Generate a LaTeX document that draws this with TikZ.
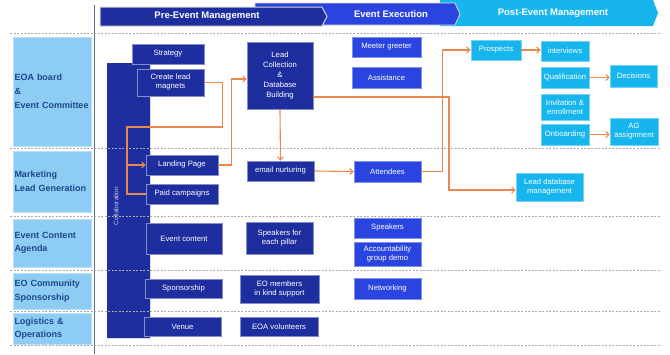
\documentclass[tikz,border=0pt]{standalone}
\usepackage{fontspec}
\setmainfont{Liberation Sans}
\usetikzlibrary{arrows.meta,shadows}

\definecolor{preblue}{HTML}{1F2E9E}
\definecolor{exeblue}{HTML}{2A45DF}
\definecolor{postcyan}{HTML}{17B5EE}
\definecolor{rowblue}{HTML}{8ECDF3}
\definecolor{rowtext}{HTML}{1F4690}
\definecolor{linkorange}{HTML}{E8884D}
\definecolor{sepline}{HTML}{5A7088}

\begin{document}
\begin{tikzpicture}[x=1pt, y=-1pt,
  box/.style={text=white, font=\fontsize{7.7}{9}\selectfont, align=center,
    inner sep=1pt, line width=0.5pt,
    drop shadow={shadow xshift=1.3pt, shadow yshift=-1.3pt, fill=black!40}},
  prebox/.style={box, fill=preblue, draw=preblue!55!white},
  exebox/.style={box, fill=exeblue, draw=exeblue!60!white},
  postbox/.style={box, fill=postcyan, draw=postcyan!60!white},
  rowlab/.style={fill=rowblue, draw=rowblue!60!white, minimum width=78,
    text width=75pt, inner xsep=1.5pt, align=left, text=rowtext,
    font=\bfseries\fontsize{9}{14}\selectfont},
  banner/.style={text=white, font=\bfseries\fontsize{9.5}{11}\selectfont},
  lane/.style={draw=gray!65, dash pattern=on 2pt off 1.5pt, line width=0.6pt},
  link/.style={draw=linkorange, line width=1.1pt},
  flow/.style={link, -{Straight Barb[length=3.2pt,width=6pt]}}]

  \useasboundingbox (0,0) rectangle (670,354);

  % --- 1. Phase banners ---
  \fill[postcyan] (440,0) -- (653,0) -- (658,13) -- (653,26) -- (440,26) -- cycle;
  \draw[fill=exeblue, draw=gray!30, line width=0.8pt]
    (255,3) -- (455,3) -- (460,14) -- (455,25) -- (255,25) -- cycle;
  \draw[fill=preblue, draw=gray!35, line width=1pt]
    (100,7) -- (322,7) -- (327,16.5) -- (322,26) -- (100,26) -- cycle;
  \node[banner] (prehead) at (207,16.5) {Pre-Event Management};
  \node[banner] (exehead) at (391,14.5) {Event Execution};
  \node[banner] (posthead) at (553,13) {Post-Event Management};

  % vertical separator
  \draw[sepline, line width=1pt] (94,5) -- (94,354);

  % --- 2. Collaboration bar ---
  \path[fill=preblue, drop shadow={shadow xshift=1.3pt, shadow yshift=-1.3pt, fill=black!30}]
    (107,63) rectangle (150,338);
  \node[rotate=90, text=white!75!preblue, font=\fontsize{6.5}{8}\selectfont]
    (collab) at (116,206) {Collaboration};

  % --- 3. Swim lanes ---
  \foreach \y in {33,148,216,270,311,345}
    \draw[lane] (10,\y) -- (660,\y);

  % --- 4. Row labels ---
  \node[rowlab, minimum height=109] (board) at (52,91.5) {EOA board\\\&\\Event Committee};
  \node[rowlab, minimum height=61] (marketing) at (52,181.5) {Marketing\\Lead Generation};
  \node[rowlab, minimum height=48, font=\bfseries\fontsize{9}{13}\selectfont]
    (contentrow) at (52,243) {Event Content\\Agenda};
  \node[rowlab, minimum height=36] (community) at (52,291) {EO Community\\Sponsorship};
  \node[rowlab, minimum height=31, font=\bfseries\fontsize{9}{12.5}\selectfont]
    (logistics) at (52,328.5) {Logistics \&\\Operations};

  % --- 5. Pre-event boxes ---
  \node[prebox, minimum width=72, minimum height=20] (strategy) at (168,54) {Strategy};
  \node[prebox, minimum width=67, minimum height=27] (magnets) at (170.5,82.5) {Create lead\\magnets};
  \node[prebox, minimum width=66, minimum height=67, font=\fontsize{7.7}{10}\selectfont]
    (leadcoll) at (280,75.5) {Lead\\Collection\\\&\\Database\\Building};
  \node[prebox, minimum width=72, minimum height=20] (landing) at (182,165) {Landing Page};
  \node[prebox, minimum width=72, minimum height=20] (paid) at (182,194) {Paid campaigns};
  \node[prebox, minimum width=67, minimum height=20] (nurture) at (280.5,171) {email nurturing};
  \node[prebox, minimum width=76, minimum height=31] (content) at (184,238.5) {Event content};
  \node[prebox, minimum width=67, minimum height=32] (pillar) at (279.5,238) {Speakers for\\each pillar};
  \node[prebox, minimum width=77, minimum height=19] (sponsor) at (183.5,288.5) {Sponsorship};
  \node[prebox, minimum width=79, minimum height=28] (members) at (279.5,289) {EO members\\in kind support};
  \node[prebox, minimum width=77, minimum height=19] (venue) at (182.5,326.5) {Venue};
  \node[prebox, minimum width=78, minimum height=19] (volunteers) at (279,326.5) {EOA volunteers};

  % --- 6. Event execution boxes ---
  \node[exebox, minimum width=69, minimum height=20] (greeter) at (386.5,47) {Meeter greeter};
  \node[exebox, minimum width=69, minimum height=21] (assist) at (386.5,77.5) {Assistance};
  \node[exebox, minimum width=67, minimum height=21] (attendees) at (387.5,171.5) {Attendees};
  \node[exebox, minimum width=67, minimum height=20] (speakers) at (387.5,228) {Speakers};
  \node[exebox, minimum width=67, minimum height=24] (account) at (387.5,254) {Accountability\\group demo};
  \node[exebox, minimum width=67, minimum height=21] (network) at (387.5,288.5) {Networking};

  % --- 7. Post-event boxes ---
  \node[postbox, minimum width=50, minimum height=20] (prospects) at (496,50) {Prospects};
  \node[postbox, minimum width=48, minimum height=20] (interviews) at (565,51) {interviews};
  \node[postbox, minimum width=48, minimum height=21] (qualif) at (565,77.5) {Qualification};
  \node[postbox, minimum width=47, minimum height=22] (decisions) at (633.5,76) {Decisions};
  \node[postbox, minimum width=48, minimum height=26] (invite) at (565,107) {Invitation \&\\enrollment};
  \node[postbox, minimum width=48, minimum height=21] (onboard) at (565,134.5) {Onboarding};
  \node[postbox, minimum width=48, minimum height=27] (agassign) at (634,131.5) {AG\\assignment};
  \node[postbox, minimum width=67, minimum height=28] (leaddb) at (549.5,187) {Lead database\\management};

  % --- 8. Connectors ---
  \coordinate (fork) at (127,165);
  \draw[link] (magnets.east) -- ++(18,0) |- (127,127) |- (paid.west);
  \draw[flow] (fork) -- (landing.west);
  \draw[flow] (landing.east) -- ++(13,0) |- ([yshift=-3.5pt]leadcoll.west);
  \draw[flow] (leadcoll.south) -- (nurture.north);
  \draw[flow] ([yshift=-21.5pt]leadcoll.east) -- (449,97) |- ([yshift=-3pt]leaddb.west);
  \draw[flow] (nurture.east) -- (attendees.west);
  \draw[flow] (attendees.east) -- ++(21,0) |- (prospects.west);
  \draw[flow] (prospects.east) -- (prospects.east -| interviews.west);
  \draw[flow] (qualif.east) -- (qualif.east -| decisions.west);
  \draw[flow] (onboard.east) -- (onboard.east -| agassign.west);

\end{tikzpicture}
\end{document}
